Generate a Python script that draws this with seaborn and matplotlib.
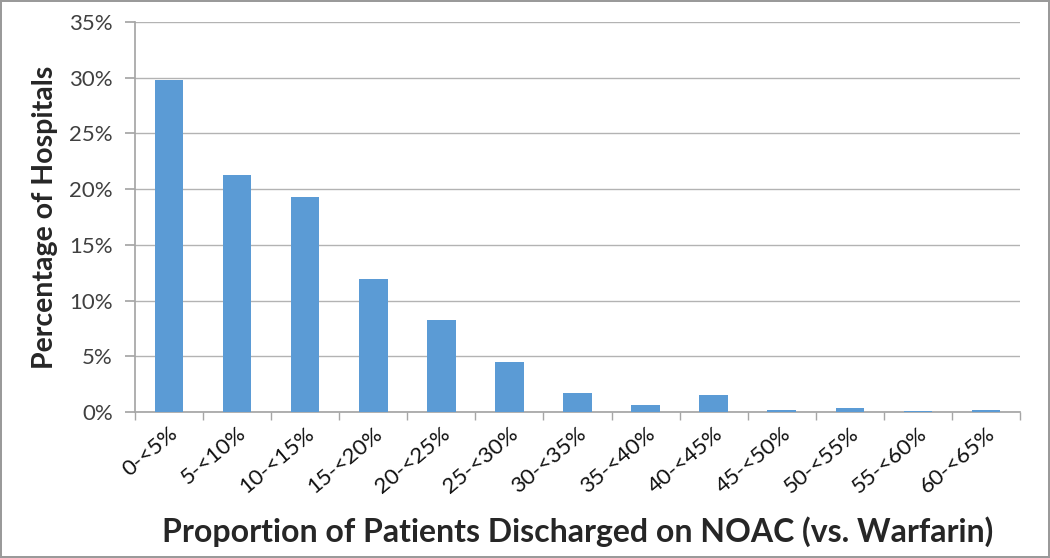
import numpy as np
import pandas as pd
import matplotlib
matplotlib.use("Agg")
import matplotlib.pyplot as plt
import seaborn as sns
from matplotlib.ticker import FuncFormatter

categories = ['0-<5%', '5-<10%', '10-<15%', '15-<20%', '20-<25%', '25-<30%', '30-<35%',
              '35-<40%', '40-<45%', '45-<50%', '50-<55%', '55-<60%', '60-<65%']
pct_hospitals = [29.8, 21.3, 19.3, 11.9, 8.3, 4.5, 1.75, 0.6, 1.55, 0.22, 0.4, 0.12, 0.22]

df = pd.DataFrame({'bin': categories, 'pct': pct_hospitals})

sns.set_theme(style="white")
plt.rcParams['font.family'] = ['Lato', 'DejaVu Sans']

fig = plt.figure(figsize=(10.5, 5.58), dpi=100)
fig.patch.set_edgecolor('#9a9a9a')
fig.patch.set_linewidth(1.5)
ax = fig.add_axes([135 / 1050, 1 - 412 / 558, 885 / 1050, 390 / 558])

sns.barplot(data=df, x='bin', y='pct', color='#5b9bd5', saturation=1, width=0.42,
            linewidth=0, edgecolor='none', ax=ax, zorder=3)

ax.set_ylim(0, 35)
ax.set_xlim(-0.5, len(categories) - 0.5)
ax.set_yticks(np.arange(0, 36, 5))
ax.yaxis.set_major_formatter(FuncFormatter(lambda v, p: f'{int(v)}%'))
ax.yaxis.grid(True, color='#b3b3b3', linewidth=1, zorder=0)
ax.set_axisbelow(True)

for s in ['top', 'right']:
    ax.spines[s].set_visible(False)
ax.spines['left'].set_color('#a6a6a6')
ax.spines['bottom'].set_color('#a6a6a6')
ax.spines['bottom'].set_zorder(2)

ax.set_xticks(np.arange(len(categories)))
ax.set_xticklabels(categories, rotation=40, ha='right', rotation_mode='anchor', fontsize=16)
ax.tick_params(axis='x', length=0, pad=8)
ax.set_xticks(np.arange(-0.5, len(categories)), minor=True)
ax.tick_params(axis='x', which='minor', length=6, color='#a6a6a6', direction='out', bottom=True)
ax.tick_params(axis='y', length=7, color='#a6a6a6', direction='out', left=True, labelsize=16, pad=9)
for lab in ax.get_yticklabels():
    lab.set_color('#404040')
for lab in ax.get_xticklabels():
    lab.set_color('#111111')

ax.set_xlabel('Proportion of Patients Discharged on NOAC (vs. Warfarin)', fontsize=23,
              fontweight='bold', labelpad=14)
ax.set_ylabel('Percentage of Hospitals', fontsize=20.5, fontweight='bold', labelpad=8)

fig.savefig('out.png', dpi=100, edgecolor=fig.get_edgecolor())
